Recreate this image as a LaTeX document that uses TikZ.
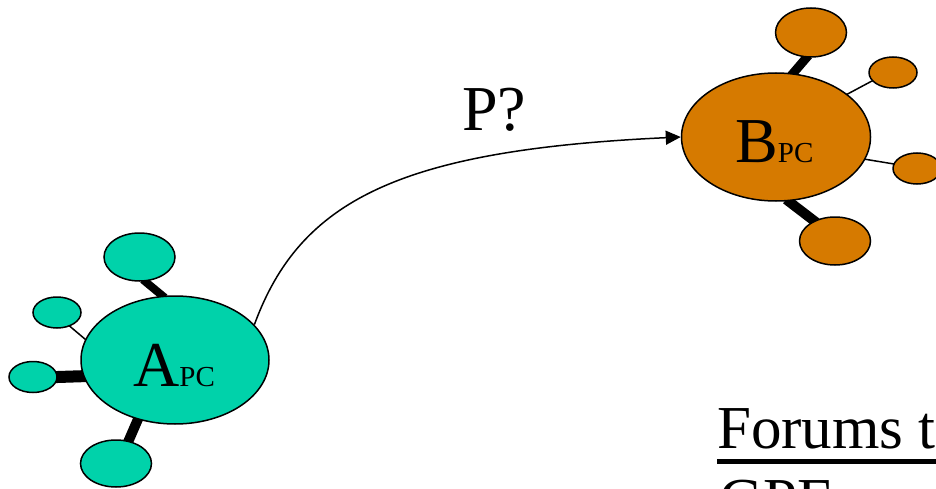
\documentclass[tikz,border=0pt]{standalone}
\usepackage{fontspec}
\setmainfont{Liberation Serif}
\usetikzlibrary{shapes.geometric,arrows.meta,backgrounds}
\definecolor{acol}{HTML}{00D2AA}
\definecolor{bcol}{HTML}{D67A00}
\begin{document}
\begin{tikzpicture}[x=1pt,y=-1pt,
  blob/.style={ellipse,draw=black,line width=1.5pt,inner sep=0pt},
  ablob/.style={blob,fill=acol},
  bblob/.style={blob,fill=bcol},
  bigblob/.style={minimum width=188pt,minimum height=128pt},
  midblob/.style={minimum width=71pt,minimum height=48pt},
  smallblob/.style={minimum width=48pt,minimum height=31pt},
  fine link/.style={line width=1.5pt,shorten <=-2pt,shorten >=-2pt},
  heavy link/.style={line width=#1,shorten <=-3pt,shorten >=-3pt},
  lbl/.style={anchor=base west,inner sep=0pt,text=black}]
\useasboundingbox (0,0) rectangle (936,489);
\clip (0,0) rectangle (936,489);
% A cluster
\node[ablob,bigblob] (A) at (175,360) {};
\node[ablob,midblob] (AT) at (139.5,257) {};
\node[ablob,smallblob] (AS) at (57,312.5) {};
\node[ablob,smallblob] (AL) at (33,377) {};
\node[ablob,midblob,minimum height=47pt] (AB) at (116,463.5) {};
\node[lbl] (Alab) at (133,386) {\fontsize{64}{64}\selectfont A\fontsize{29}{29}\selectfont PC};
% B cluster
\node[bblob,bigblob,minimum width=189pt] (B) at (776,137) {};
\node[bblob,midblob,minimum height=49pt] (BT) at (811,32.5) {};
\node[bblob,smallblob] (BS) at (893,72.5) {};
\node[bblob,smallblob] (BR) at (917,168.5) {};
\node[bblob,midblob] (BB) at (835,241) {};
\node[lbl] (Blab) at (735,163) {\fontsize{64}{64}\selectfont B\fontsize{29}{29}\selectfont PC};
% links
\begin{scope}[on background layer]
  \draw[heavy link=8pt] (AT.-77) -- (A.101);
  \draw[fine link] (AS.-47) -- (A.167);
  \draw[heavy link=12pt] (AL.east) -- (A.190);
  \draw[heavy link=10pt] (AB.61) -- (A.-122);
  \draw[heavy link=9pt] (BT.-100) -- (B.75);
  \draw[fine link] (BS.202) -- (B.31);
  \draw[fine link] (BR.169) -- (B.-14);
  \draw[heavy link=10pt] (BB.136) -- (B.-79);
\end{scope}
% curve
\draw[line width=1.5pt,-{Triangle[length=15pt,width=14pt]}] (A.24) .. controls (300,200) and (400,150) .. (B.west);
\node[lbl] (P) at (462,131) {\fontsize{64}{64}\selectfont P?};
% bottom text
\node[lbl] (forums) at (717,448) {\fontsize{61}{61}\selectfont Forums t};
\draw[line width=5pt] (forums.base west) ++(0,13) -- ++(230,0);
\node[lbl] (gpe) at (719,520) {\fontsize{61}{61}\selectfont GPE};
\end{tikzpicture}
\end{document}
